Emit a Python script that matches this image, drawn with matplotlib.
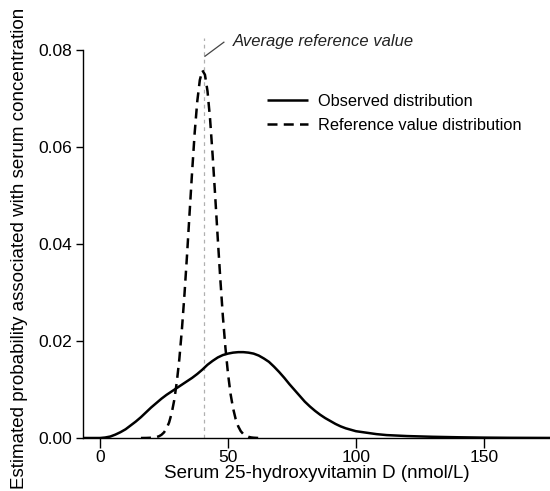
import matplotlib
matplotlib.use("Agg")
import matplotlib.pyplot as plt

plt.rcParams['font.family'] = ['Liberation Sans', 'DejaVu Sans']

# Observed distribution
obs_x = [-6.6, 0, 2, 4, 6, 8, 10, 12, 14, 16, 18, 20, 22, 24, 26, 28, 30, 32, 34, 36,
         38, 40, 42, 44, 46, 48, 50, 52, 54, 56, 58, 60, 62, 64, 66, 68, 70, 72, 74,
         76, 78, 80, 82, 84, 86, 88, 90, 92, 94, 96, 98, 100, 104, 108, 112, 116,
         120, 130, 140, 150, 160, 176]
obs_y = [0.0, 0.0, 0.0001, 0.0003, 0.0007, 0.0012, 0.0018, 0.0026, 0.0034, 0.0043,
         0.0053, 0.0063, 0.0072, 0.0081, 0.0089, 0.0096, 0.0103, 0.0110, 0.0117,
         0.0124, 0.0132, 0.0141, 0.0151, 0.0159, 0.0166, 0.0171, 0.0174, 0.0176,
         0.0177, 0.0177, 0.0176, 0.0174, 0.0170, 0.0164, 0.0157, 0.0147, 0.0136,
         0.0124, 0.0111, 0.0099, 0.0087, 0.0075, 0.0065, 0.0056, 0.0048, 0.0041,
         0.0035, 0.0029, 0.0024, 0.0020, 0.0017, 0.0014, 0.0011, 0.0008, 0.0006,
         0.0005, 0.0004, 0.00025, 0.00015, 0.00008, 0.00004, 0.00001]

# Reference value distribution
ref_x = [16, 18, 20, 21, 22, 23, 24, 25, 26, 27, 28, 29, 30, 31, 32, 33, 34, 35, 36,
         37, 38, 39, 40, 41, 42, 43, 44, 45, 46, 47, 48, 49, 50, 51, 52, 53, 54, 55,
         56, 57, 58, 59, 60, 62]
ref_y = [0.0, 0.00001, 0.00005, 0.00009, 0.00019, 0.00035, 0.00065, 0.00115, 0.00196,
         0.00321, 0.0051, 0.0078, 0.0115, 0.0163, 0.0224, 0.0296, 0.0377, 0.0464,
         0.0550, 0.0630, 0.0694, 0.0738, 0.0758, 0.0749, 0.0715, 0.0658, 0.0583,
         0.0499, 0.0412, 0.0328, 0.0251, 0.0186, 0.0133, 0.0091, 0.0061, 0.0039,
         0.0024, 0.0014, 0.0008, 0.00045, 0.00024, 0.00012, 0.00006, 0.0]

avg_ref_value = 40.6
x_ticks = [0, 50, 100, 150]
y_ticks = [0.00, 0.02, 0.04, 0.06, 0.08]
y_tick_labels = ['0.00', '0.02', '0.04', '0.06', '0.08']

fig = plt.figure(figsize=(5.5, 4.91), dpi=100)
ax = fig.add_axes([83/550, 1 - 438/491, 467/550, 438/491])

ax.vlines(avg_ref_value, 0, 0.0825, colors='#b0b0b0', linewidth=0.9,
          linestyles=(0, (3, 3)), zorder=1)
ax.plot(obs_x, obs_y, color='black', lw=1.8, solid_capstyle='butt',
        solid_joinstyle='round', label='Observed distribution', zorder=3)
ax.plot(ref_x, ref_y, color='black', lw=1.8, dashes=(4, 2.5),
        label='Reference value distribution', zorder=3)

ax.plot([41.0, 48.4], [0.0787, 0.0816], color='#444444', lw=0.9)
ax.text(52.0, 0.0808, 'Average reference value', style='italic', fontsize=12,
        ha='left', va='baseline', color='#222222')

ax.set_xlim(-6.64, 175.8)
ax.set_ylim(0, 0.0903)
ax.set_xticks(x_ticks)
ax.set_yticks(y_ticks)
ax.set_yticklabels(y_tick_labels)

for s in ['top', 'right']:
    ax.spines[s].set_visible(False)
ax.spines['left'].set_bounds(0, 0.08)
ax.spines['left'].set_linewidth(1.0)
ax.spines['bottom'].set_linewidth(1.0)
ax.tick_params(axis='y', direction='out', length=5, width=1.0, labelsize=12.5, pad=3)
ax.tick_params(axis='x', direction='out', length=7, width=1.0, labelsize=12.5, pad=1.5)

ax.set_xlabel('Serum 25-hydroxyvitamin D (nmol/L)', fontsize=13.5, labelpad=0)
ax.set_ylabel('Estimated probability associated with serum concentration', fontsize=13.5)
ax.yaxis.set_label_coords(-0.118, 0.432)

leg = fig.legend(loc='upper left', bbox_to_anchor=(267/550, 1 - 94/491),
                 frameon=False, fontsize=11.8, handlelength=2.5, handletextpad=0.6,
                 labelspacing=0.55, borderpad=0, borderaxespad=0)

fig.savefig('out.png', dpi=100)
